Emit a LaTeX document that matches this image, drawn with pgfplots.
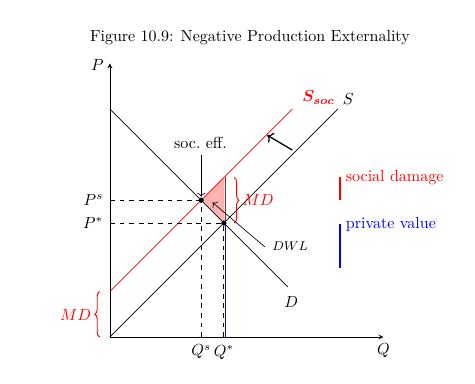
\documentclass[border=0pt]{standalone}
\usepackage{bm}
\usepackage{pgfplots}
\pgfplotsset{compat=1.18}
\usetikzlibrary{decorations.pathreplacing,arrows.meta}
\begin{document}
\begin{tikzpicture}
\begin{axis}[x=0.5cm,y=0.5cm,xmin=0,xmax=12,ymin=0,ymax=12,
  axis lines=left, xtick=\empty, ytick=\empty, clip=false,
  axis line style={thin}]
\path (axis cs:-4.82,-2.02) rectangle (axis cs:16.01,14.78);
% shaded DWL triangle
\addplot[fill=red!30, draw=none] coordinates {(4,6) (5,5) (5,7) (4,6)};
% curves
\addplot[black, thin] coordinates {(0,0) (10,10)};
\addplot[red, thin] coordinates {(0,2) (8,10)};
\addplot[black, thin] coordinates {(0,10) (7.8,2.2)};
% dashed guides
\addplot[black, dashed, thin] coordinates {(0,6) (4,6)};
\addplot[black, dashed, thin] coordinates {(4,0) (4,6)};
\addplot[black, dashed, thin] coordinates {(0,5) (5,5)};
\addplot[black, dashed, thin] coordinates {(4.97,0) (4.97,5)};
% vertical bars
\addplot[red, thick] coordinates {(5.07,5) (5.07,7)};
\addplot[blue, thick] coordinates {(5.07,0) (5.07,5)};
% points
\addplot[only marks, mark=*, mark size=1.4pt, black] coordinates {(4,6) (5,5)};
% legend bars
\addplot[red, thick] coordinates {(10.09,6) (10.09,7)};
\addplot[blue, thick] coordinates {(10.09,3.03) (10.09,4.96)};
\node[red, anchor=west] at (axis cs:10.1,7.0) {social damage};
\node[blue, anchor=west] at (axis cs:10.1,4.95) {private value};
% labels
\node at (axis cs:6.14,13.15) {Figure 10.9: Negative Production Externality};
\node at (axis cs:-0.55,11.95) {$P$};
\node at (axis cs:12.0,-0.6) {$Q$};
\node[anchor=east] at (axis cs:-0.05,6) {$P^s$};
\node[anchor=east] at (axis cs:-0.05,5) {$P^*$};
\node[anchor=north] at (axis cs:4,-0.1) {$Q^s$};
\node[anchor=north] at (axis cs:5,-0.1) {$Q^*$};
\node[red] at (axis cs:9.15,10.5) {$\bm{S_{soc}}$};
\node at (axis cs:10.45,10.45) {$S$};
\node at (axis cs:7.95,1.55) {$D$};
% braces
\draw[red, semithick, decorate, decoration={brace, amplitude=3pt}] (axis cs:-0.45,0) -- (axis cs:-0.45,2);
\node[red] at (axis cs:-1.5,0.96) {$MD$};
\draw[red, semithick, decorate, decoration={brace, amplitude=3pt}] (axis cs:5.45,7) -- (axis cs:5.45,5);
\node[red] at (axis cs:6.5,6) {$MD$};
% annotations
\node at (axis cs:3.97,8.5) {soc.\ eff.};
\draw[->] (axis cs:4,8.0) -- (axis cs:4,6.15);
\node at (axis cs:7.9,4.0) {\footnotesize $DWL$};
\draw[->] (axis cs:6.8,3.95) -- (axis cs:4.5,5.9);
\draw[->, thick] (axis cs:8.0,8.2) -- (axis cs:6.9,8.85);
\end{axis}
\end{tikzpicture}
\end{document}
